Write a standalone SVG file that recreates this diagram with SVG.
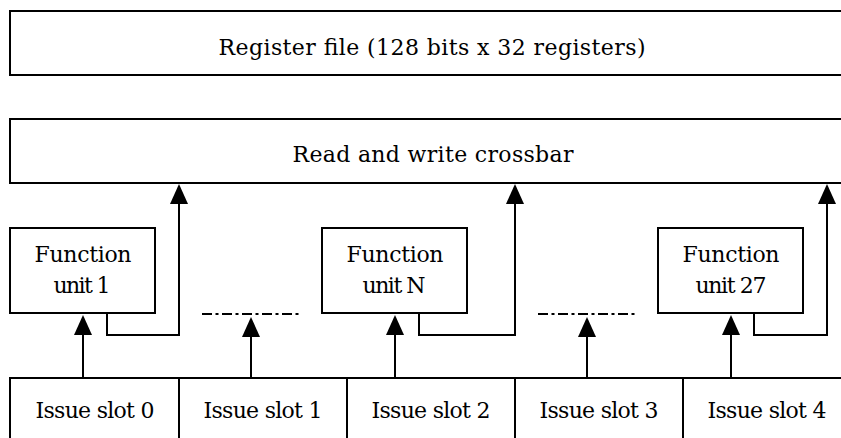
<svg xmlns="http://www.w3.org/2000/svg" width="841" height="438" viewBox="0 0 841 438">
  <style>
    .box { fill: #ffffff; stroke: #000000; stroke-width: 2; }
    .wire { fill: none; stroke: #000000; stroke-width: 2; }
    .dash { fill: none; stroke: #000000; stroke-width: 2; stroke-dasharray: 10 3.5 3 3.5; }
    text { font-family: 'DejaVu Serif', 'Liberation Serif', serif; font-size: 22px; fill: #000000; text-anchor: middle; }
  </style>
  <defs>
    <marker id="arrow" viewBox="0 0 20 18" refX="15" refY="9" markerWidth="20" markerHeight="18" markerUnits="userSpaceOnUse" orient="auto">
      <path d="M0,0 L20,9 L0,18 z" fill="#000000"/>
    </marker>
  </defs>
  <rect width="841" height="438" fill="#ffffff"/>

  <!-- register file (runs off the right edge) -->
  <g id="register-file">
    <rect class="box" x="10" y="11" width="842" height="64"/>
    <text x="432" y="55" textLength="427" lengthAdjust="spacing">Register file (128 bits x 32 registers)</text>
  </g>

  <!-- crossbar -->
  <g id="crossbar">
    <rect class="box" x="10" y="119" width="842" height="64"/>
    <text x="433" y="162" textLength="281" lengthAdjust="spacing">Read and write crossbar</text>
  </g>

  <!-- function units -->
  <g id="function-unit-1">
    <rect class="box" x="10" y="228" width="145" height="85"/>
    <text x="83" y="262" textLength="97" lengthAdjust="spacing">Function</text>
    <text x="82" y="293" textLength="57" lengthAdjust="spacing">unit 1</text>
  </g>
  <g id="function-unit-n">
    <rect class="box" x="322" y="228" width="145" height="85"/>
    <text x="395" y="262" textLength="97" lengthAdjust="spacing">Function</text>
    <text x="394" y="293" textLength="63" lengthAdjust="spacing">unit N</text>
  </g>
  <g id="function-unit-27">
    <rect class="box" x="658" y="228" width="145" height="85"/>
    <text x="731" y="262" textLength="97" lengthAdjust="spacing">Function</text>
    <text x="731" y="293" textLength="71" lengthAdjust="spacing">unit 27</text>
  </g>

  <!-- elided units -->
  <g id="ellipsis-1">
    <line class="dash" x1="202" y1="314" x2="300" y2="314"/>
  </g>
  <g id="ellipsis-2">
    <line class="dash" x1="538" y1="314" x2="636" y2="314"/>
  </g>

  <!-- issue slots (last one runs off the right edge) -->
  <g id="issue-slot-0">
    <rect class="box" x="10" y="378" width="169" height="80"/>
    <text x="95" y="418" textLength="119" lengthAdjust="spacing">Issue slot 0</text>
  </g>
  <g id="issue-slot-1">
    <rect class="box" x="179" y="378" width="168" height="80"/>
    <text x="263" y="418" textLength="119" lengthAdjust="spacing">Issue slot 1</text>
  </g>
  <g id="issue-slot-2">
    <rect class="box" x="347" y="378" width="168" height="80"/>
    <text x="431" y="418" textLength="119" lengthAdjust="spacing">Issue slot 2</text>
  </g>
  <g id="issue-slot-3">
    <rect class="box" x="515" y="378" width="168" height="80"/>
    <text x="599" y="418" textLength="119" lengthAdjust="spacing">Issue slot 3</text>
  </g>
  <g id="issue-slot-4">
    <rect class="box" x="683" y="378" width="169" height="80"/>
    <text x="767" y="418" textLength="119" lengthAdjust="spacing">Issue slot 4</text>
  </g>

  <!-- connectors -->
  <g id="connectors">
    <path class="wire" marker-end="url(#arrow)" d="M83,378 V320"/>
    <path class="wire" marker-end="url(#arrow)" d="M107,313 V335 H179 V189"/>
    <path class="wire" marker-end="url(#arrow)" d="M251,378 V322"/>
    <path class="wire" marker-end="url(#arrow)" d="M395,378 V320"/>
    <path class="wire" marker-end="url(#arrow)" d="M419,313 V335 H515 V189"/>
    <path class="wire" marker-end="url(#arrow)" d="M587,378 V322"/>
    <path class="wire" marker-end="url(#arrow)" d="M731,378 V320"/>
    <path class="wire" marker-end="url(#arrow)" d="M754,313 V335 H827 V189"/>
  </g>
</svg>
